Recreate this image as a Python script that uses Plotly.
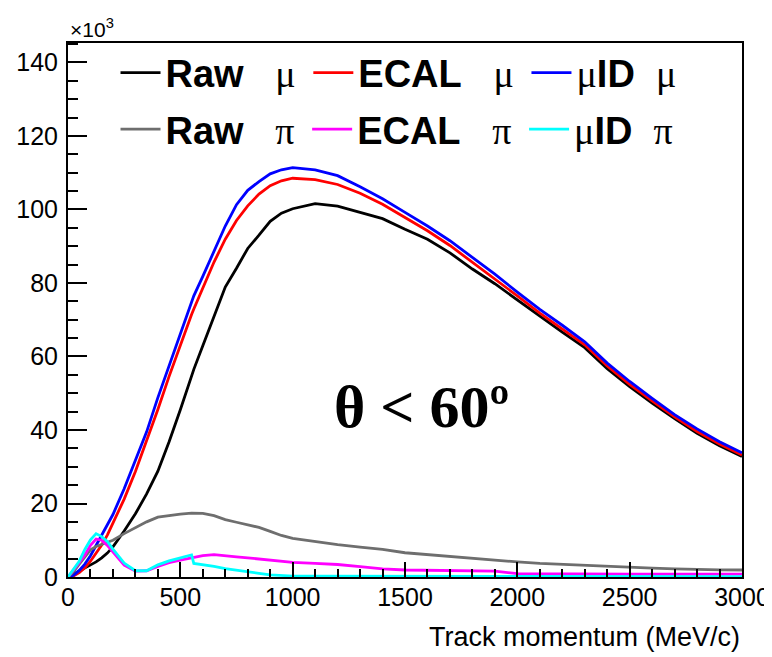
import plotly.graph_objects as go

# Track momentum grid (MeV/c)
momentum = [0, 25, 50, 75, 100, 125, 150, 175, 200, 250, 300, 350, 400, 450, 500,
            550, 560, 600, 650, 700, 750, 800, 850, 900, 950, 1000,
            1100, 1200, 1300, 1400, 1500, 1600, 1700, 1800, 1900, 2000,
            2100, 2200, 2300, 2400, 2500, 2600, 2700, 2800, 2900, 3000]

# Counts (x10^3)
raw_mu = [0, 0.8, 1.6, 2.4, 3.2, 4.1, 5.2, 6.5, 8.2, 12.5, 17.2, 22.6, 28.8, 36.8, 45.5,
          54.8, 56.5, 62.9, 70.9, 78.9, 84.0, 89.4, 93.0, 96.8, 99.0, 100.2,
          101.6, 100.9, 99.2, 97.5, 94.6, 91.9, 88.2, 83.8, 79.8, 75.4,
          70.8, 66.6, 62.4, 56.7, 51.8, 47.3, 43.1, 39.1, 35.7, 32.8]
ecal_mu = [0, 0.3, 1.2, 2.5, 4.3, 6.4, 8.7, 11.4, 14.6, 21.2, 28.7, 37.0, 45.6, 54.6, 63.3,
           71.4, 72.9, 78.8, 85.7, 91.9, 97.0, 101.0, 104.2, 106.5, 107.8, 108.5,
           108.1, 106.8, 104.4, 101.4, 97.9, 94.2, 90.2, 85.7, 81.2, 76.5,
           71.8, 67.6, 63.2, 57.4, 52.4, 47.9, 43.6, 39.6, 36.2, 33.2]
muid_mu = [0, 0.5, 1.8, 3.5, 5.8, 8.5, 11.2, 14.0, 17.0, 24.0, 31.5, 39.5, 48.8, 57.5, 66.3,
           75.0, 76.5, 81.8, 88.5, 95.5, 101.3, 105.2, 107.6, 109.7, 110.8, 111.4,
           110.8, 109.2, 106.2, 102.9, 99.2, 95.5, 91.5, 87.0, 82.4, 77.5,
           72.8, 68.5, 64.0, 58.2, 53.2, 48.6, 44.2, 40.3, 36.8, 33.8]
raw_pi = [0, 1.5, 3.5, 5.5, 7.4, 8.3, 8.8, 9.3, 10.0, 11.8, 13.5, 15.0, 16.3, 16.8, 17.1,
          17.4, 17.4, 17.3, 16.7, 15.6, 14.9, 14.2, 13.5, 12.4, 11.3, 10.5,
          9.6, 8.8, 8.1, 7.5, 6.6, 6.1, 5.4, 4.9, 4.4, 4.1,
          3.7, 3.4, 3.1, 2.8, 2.6, 2.4, 2.2, 2.0, 1.95, 1.9]
ecal_pi = [0, 1.8, 3.9, 6.0, 8.6, 10.3, 10.0, 8.6, 6.8, 3.2, 1.6, 1.7, 2.9, 3.9, 4.6,
           5.2, 5.3, 5.8, 6.1, 5.9, 5.5, 5.2, 4.9, 4.6, 4.3, 4.0,
           3.7, 3.4, 2.8, 2.2, 1.9, 1.8, 1.7, 1.6, 1.6, 0.9,
           0.85, 0.85, 0.85, 0.8, 0.8, 0.8, 0.8, 0.8, 0.8, 0.8]
muid_pi = [0, 2.0, 4.3, 7.5, 10.1, 11.8, 11.0, 9.7, 7.6, 3.8, 1.7, 1.7, 3.3, 4.4, 5.2,
           6.0, 3.7, 3.4, 2.9, 2.3, 1.8, 1.3, 1.0, 0.6, 0.35, 0.25,
           0.2, 0.2, 0.2, 0.2, 0.15, 0.15, 0.15, 0.15, 0.1, 0.1,
           0.1, 0.1, 0.1, 0.1, 0.1, 0.1, 0.1, 0.1, 0.1, 0.1]

SERIF = "Liberation Serif"
def greek(ch):
    return "<span style=\"font-family:Liberation Serif\">" + ch + "</span>"

SP3 = "\u00a0\u00a0\u00a0"
THIN = "\u2009"
labels_mu = [
    "<b>Raw</b>" + SP3 + greek("μ") + THIN,
    "<b>ECAL</b>" + SP3 + greek("μ") + THIN,
    greek("μ") + "<b>ID</b>\u00a0\u00a0" + greek("μ"),
]
labels_pi = [
    "<b>Raw</b>" + SP3 + greek("π") + THIN,
    "<b>ECAL</b>" + SP3 + greek("π") + THIN,
    greek("μ") + "<b>ID</b>\u00a0\u00a0" + greek("π"),
]

series = [
    (raw_mu, "#000000", labels_mu[0], "legend"),
    (ecal_mu, "#ff0000", labels_mu[1], "legend"),
    (muid_mu, "#0000ff", labels_mu[2], "legend"),
    (raw_pi, "#6e6e6e", labels_pi[0], "legend2"),
    (ecal_pi, "#ff00ff", labels_pi[1], "legend2"),
    (muid_pi, "#00ffff", labels_pi[2], "legend2"),
]

fig = go.Figure()
for vals, color, name, leg in series:
    fig.add_trace(go.Scatter(x=momentum, y=vals, mode="lines", name=name,
                             line=dict(color=color, width=2.8), legend=leg))

legfont = dict(family="Liberation Sans", size=38, color="black")
fig.update_layout(
    width=764, height=649,
    margin=dict(l=60, r=30, t=35, b=80, autoexpand=False),
    paper_bgcolor="white", plot_bgcolor="white",
    legend=dict(orientation="h", x=0.0705, y=0.944, xanchor="left", yanchor="middle",
                font=legfont, bgcolor="rgba(0,0,0,0)", itemwidth=40, traceorder="normal"),
    legend2=dict(orientation="h", x=0.0705, y=0.838, xanchor="left", yanchor="middle",
                 font=legfont, bgcolor="rgba(0,0,0,0)", itemwidth=40, traceorder="normal"),
    xaxis=dict(range=[0, 3000], tick0=0, dtick=500, showgrid=False, zeroline=False,
               automargin=False,
               showline=True, linecolor="black", linewidth=2, mirror=True,
               ticks="inside", ticklen=15, tickwidth=2, tickcolor="black",
               minor=dict(ticks="inside", ticklen=8, tickwidth=2, dtick=100, tickcolor="black", showgrid=False),
               tickfont=dict(family="Liberation Sans", size=25, color="black"),
               ticklabelstandoff=-3),
    yaxis=dict(range=[0, 145.3], tick0=0, dtick=20, showgrid=False, zeroline=False,
               automargin=False,
               showline=True, linecolor="black", linewidth=2, mirror=True,
               ticks="inside", ticklen=19, tickwidth=2, tickcolor="black",
               minor=dict(ticks="inside", ticklen=10, tickwidth=2, dtick=5, tickcolor="black", showgrid=False),
               tickfont=dict(family="Liberation Sans", size=25, color="black"),
               ticklabelstandoff=3),
    annotations=[
        dict(text="×10<sup>3</sup>", xref="paper", yref="paper", x=0, y=1, xanchor="left",
             yanchor="bottom", showarrow=False, font=dict(family="Liberation Sans", size=21, color="black")),
        dict(text="<b>θ < 60º</b>", xref="paper", yref="paper", x=0.524, y=0.318, xanchor="center",
             yanchor="middle", showarrow=False, font=dict(family=SERIF, size=60, color="black")),
        dict(text="Track momentum (MeV/c)", xref="paper", yref="paper", x=1, y=-0.112, xanchor="right",
             yanchor="middle", showarrow=False, font=dict(family="Liberation Sans", size=27, color="black")),
    ],
)

fig.write_html("out.html")
